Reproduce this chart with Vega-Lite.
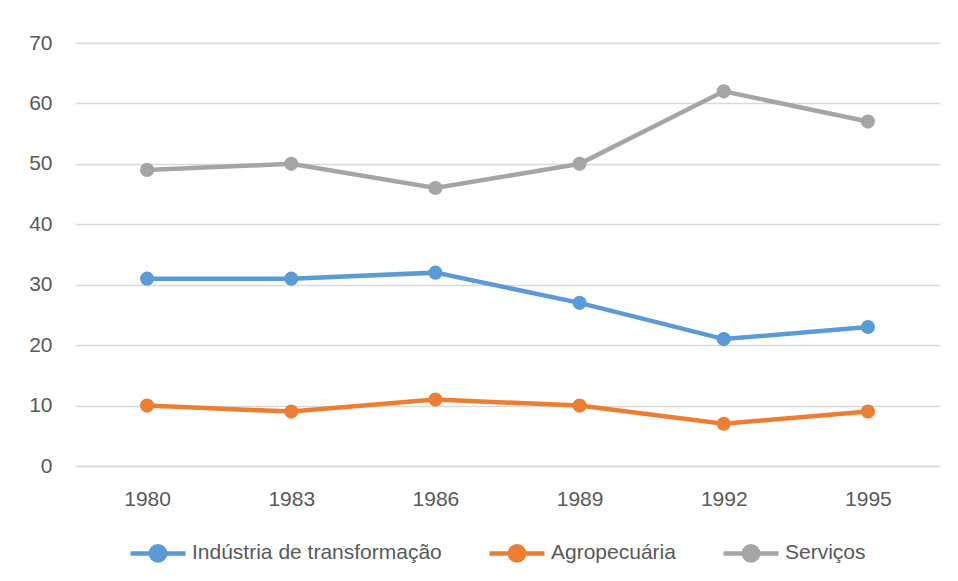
{
  "$schema": "https://vega.github.io/schema/vega-lite/v6.json",
  "width": 865,
  "height": 423,
  "autosize": {"type": "none"},
  "padding": {"left": 75, "top": 43, "right": 18, "bottom": 115},
  "background": "white",
  "config": {
    "view": {"stroke": null},
    "font": "Liberation Sans",
    "axis": {"labelFont": "Liberation Sans", "labelFontSize": 21, "labelColor": "#595959", "title": null}
  },
  "data": {
    "values": [
      {"ano": "1980", "serie": "Indústria de transformação", "valor": 31},
      {"ano": "1983", "serie": "Indústria de transformação", "valor": 31},
      {"ano": "1986", "serie": "Indústria de transformação", "valor": 32},
      {"ano": "1989", "serie": "Indústria de transformação", "valor": 27},
      {"ano": "1992", "serie": "Indústria de transformação", "valor": 21},
      {"ano": "1995", "serie": "Indústria de transformação", "valor": 23},
      {"ano": "1980", "serie": "Agropecuária", "valor": 10},
      {"ano": "1983", "serie": "Agropecuária", "valor": 9},
      {"ano": "1986", "serie": "Agropecuária", "valor": 11},
      {"ano": "1989", "serie": "Agropecuária", "valor": 10},
      {"ano": "1992", "serie": "Agropecuária", "valor": 7},
      {"ano": "1995", "serie": "Agropecuária", "valor": 9},
      {"ano": "1980", "serie": "Serviços", "valor": 49},
      {"ano": "1983", "serie": "Serviços", "valor": 50},
      {"ano": "1986", "serie": "Serviços", "valor": 46},
      {"ano": "1989", "serie": "Serviços", "valor": 50},
      {"ano": "1992", "serie": "Serviços", "valor": 62},
      {"ano": "1995", "serie": "Serviços", "valor": 57}
    ]
  },
  "mark": {"type": "line", "strokeWidth": 4.5, "point": {"size": 200, "filled": true, "opacity": 1}},
  "encoding": {
    "x": {
      "field": "ano", "type": "ordinal",
      "scale": {"type": "point", "padding": 0.5},
      "axis": {"labelAngle": 0, "grid": false, "ticks": false, "domainColor": "#d9d9d9", "domainWidth": 1.5, "labelPadding": 22}
    },
    "y": {
      "field": "valor", "type": "quantitative",
      "scale": {"domain": [0, 70]},
      "axis": {"values": [0, 10, 20, 30, 40, 50, 60, 70], "domain": false, "ticks": false, "gridColor": "#d9d9d9", "gridWidth": 1.5, "labelPadding": 23}
    },
    "color": {
      "field": "serie", "type": "nominal",
      "sort": ["Indústria de transformação", "Agropecuária", "Serviços"],
      "scale": {"domain": ["Indústria de transformação", "Agropecuária", "Serviços"], "range": ["#5B9BD5", "#ED7D31", "#A5A5A5"]},
      "legend": {
        "orient": "none", "legendX": 53, "legendY": 480, "direction": "horizontal", "title": null,
        "labelFontSize": 21, "labelColor": "#595959", "labelFont": "Liberation Sans", "labelLimit": 400,
        "symbolType": "M-1,0L1,0M-0.26,0A0.26,0.26 0 1,0 0.26,0A0.26,0.26 0 1,0 -0.26,0",
        "symbolSize": 3025, "symbolStrokeWidth": 4.5, "symbolOpacity": 1,
        "columnPadding": 38, "labelOffset": 4, "padding": 0
      }
    }
  }
}
